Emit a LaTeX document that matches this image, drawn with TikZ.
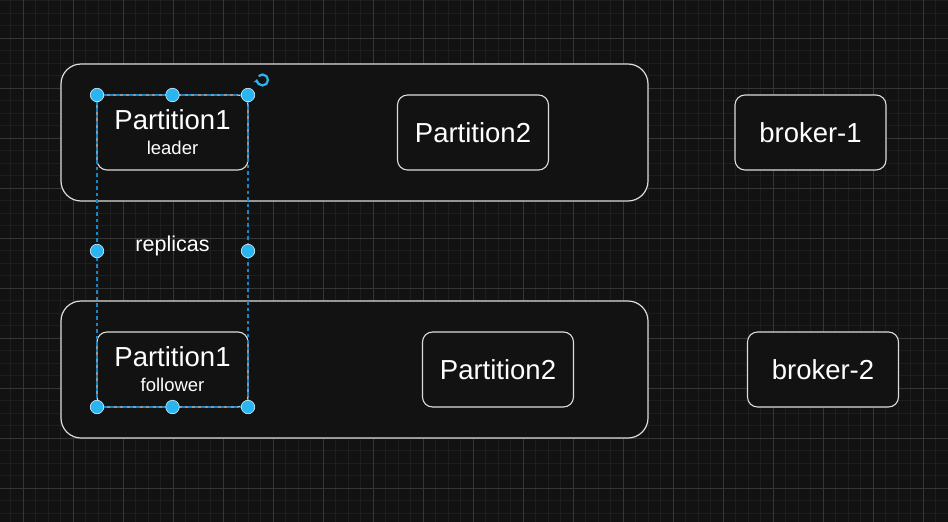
\documentclass[tikz,border=0pt]{standalone}
\usepackage{fontspec}
\setmainfont{Liberation Sans}
\usetikzlibrary{arrows.meta}
\definecolor{bg}{HTML}{121212}
\definecolor{gridminor}{HTML}{1E1E1E}
\definecolor{gridmajor}{HTML}{363636}
\definecolor{boxline}{HTML}{DCDCDC}
\definecolor{handle}{HTML}{2BB5F0}
\definecolor{selline}{HTML}{1A86C8}
\begin{document}
\begin{tikzpicture}[x=1pt,y=-1pt,
  container/.style={draw=boxline,line width=1.2pt,fill=bg,rounded corners=20pt,inner sep=0pt},
  partbox/.style={draw=boxline,line width=1.1pt,fill=bg,rounded corners=10pt,inner sep=0pt,
    minimum width=151pt,minimum height=75pt,text=white,align=center,
    font=\fontsize{27.5}{24}\selectfont},
  handledot/.style={circle,fill=handle,draw=white!80!handle,line width=0.6pt,minimum size=13.5pt,inner sep=0pt},
  selbox/.style={draw=selline,line width=1.1pt,dash pattern=on 3.5pt off 3pt},
  plaintext/.style={text=white,inner sep=0pt,font=\fontsize{21.5}{24}\selectfont}
]
\fill[bg] (0,0) rectangle (948,522);
\useasboundingbox (0,0) rectangle (948,522);
% grid
\foreach \i in {0,...,75} {
  \draw[gridminor,line width=1pt] (10.5+12.5*\i,0) -- (10.5+12.5*\i,522);
}
\foreach \i in {0,...,42} {
  \draw[gridminor,line width=1pt] (0,0.5+12.5*\i) -- (948,0.5+12.5*\i);
}
\foreach \i in {0,...,18} {
  \draw[gridmajor,line width=1pt] (23+50*\i,0) -- (23+50*\i,522);
}
\foreach \i in {0,...,9} {
  \draw[gridmajor,line width=1pt] (0,38+50*\i) -- (948,38+50*\i);
}
% containers
\node[container,minimum width=587pt,minimum height=137pt] (c1) at (354.5,132.5) {};
\node[container,minimum width=587pt,minimum height=137pt] (c2) at (354.5,369.5) {};
% partitions
\node[partbox] (p1l) at (172.5,132.5) {Partition1\\[1pt]{\fontsize{18.5}{24}\selectfont leader}};
\node[partbox] (p2t) at (473,132.5) {Partition2};
\node[partbox] (b1) at (810.5,132.5) {broker-1};
\node[partbox] (p1f) at (172.5,369.5) {Partition1\\[1pt]{\fontsize{18.5}{24}\selectfont follower}};
\node[partbox] (p2b) at (498,369.5) {Partition2};
\node[partbox] (b2) at (823,369.5) {broker-2};
% replicas label
\node[plaintext] (rep) at (172.5,246) {replicas};
% selection box
\coordinate (s1) at (97,95);
\coordinate (s2) at (248,407);
\draw[selbox] (s1) rectangle (s2);
% rotation icon
\coordinate (rot) at (262.5,80);
\draw[handle,line width=2.2pt,-{Stealth[length=4pt,width=6pt]}] ([shift={(135:5.5pt)}]rot) arc[start angle=135,end angle=-190,radius=5.5pt];
% handles
\foreach \name/\x/\y in {h1/97/95,h2/172.5/95,h3/248/95,h4/97/251,h5/248/251,h6/97/407,h7/172.5/407,h8/248/407} {
  \node[handledot] (\name) at (\x,\y) {};
}
\end{tikzpicture}
\end{document}
